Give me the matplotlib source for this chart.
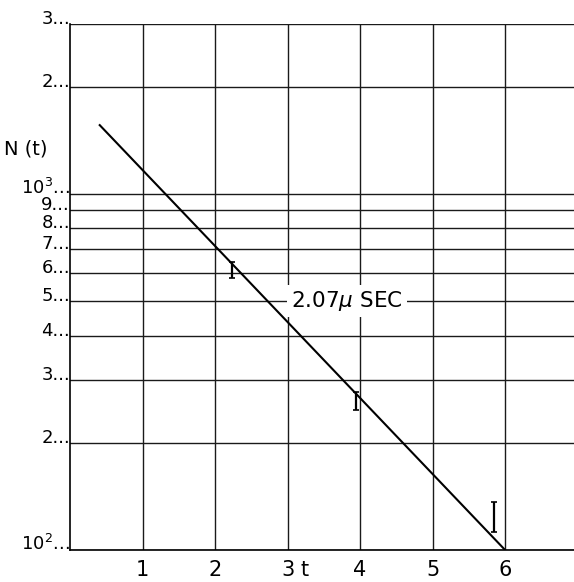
import numpy as np
import matplotlib.pyplot as plt

# y gridlines / tick labels
y_ticks = [100, 200, 300, 400, 500, 600, 700, 800, 900, 1000, 2000, 3000]
y_labels = ["10$^2$", "2", "3", "4", "5", "6", "7", "8", "9", "10$^3$", "2", "3"]
x_ticks = [1, 2, 3, 4, 5, 6]

# fitted decay line endpoints (t, N)
fit_t = [0.41, 6.0]
fit_n = [1560, 100]

# measured points with error ranges
pt_t = [2.23, 3.94, 5.85]
pt_lo = [580, 247, 112]
pt_hi = [644, 278, 136]

plt.rcParams['font.family'] = ['DejaVu Sans']

fig = plt.figure(figsize=(5.74, 5.82), dpi=100)
ax = fig.add_axes([70 / 574, 32 / 582, 504 / 574, 526 / 582])
ax.set_yscale('log')
ax.set_xlim(0, 6.95)
ax.set_ylim(100, 3000)

for y in y_ticks:
    ax.axhline(y, color='#1a1a1a', lw=1.0, zorder=1)
for x in x_ticks:
    ax.axvline(x, color='#1a1a1a', lw=1.0, zorder=1)

ax.plot(fit_t, fit_n, color='black', lw=1.5, zorder=3)

mid = [(lo + hi) / 2 for lo, hi in zip(pt_lo, pt_hi)]
err = [[m - lo for m, lo in zip(mid, pt_lo)], [hi - m for m, hi in zip(mid, pt_hi)]]
ax.errorbar(pt_t, mid, yerr=err, fmt='none', ecolor='black', elinewidth=1.6,
            capsize=2.5, capthick=1.2, zorder=4)

ax.text(3.82, 500, r"2.07$\mu$ SEC", fontsize=15.5, ha='center', va='center',
        bbox=dict(facecolor='white', edgecolor='none', pad=3), zorder=5)

ax.set_yticks(y_ticks)
ax.set_yticklabels([l + "..." for l in y_labels], fontsize=13)
for lab in ax.get_yticklabels():
    lab.set_va('baseline')
ax.yaxis.set_minor_locator(plt.NullLocator())
ax.set_xticks(x_ticks)
ax.set_xticklabels([str(x) for x in x_ticks], fontsize=15)
ax.tick_params(axis='y', length=0, pad=0)
ax.tick_params(axis='x', length=0, pad=7)

for s in ['top', 'right']:
    ax.spines[s].set_visible(False)
ax.spines['left'].set_linewidth(1.2)
ax.spines['bottom'].set_linewidth(1.2)

fig.text(26 / 574, 1 - 149 / 582, "N (t)", fontsize=14, ha='center', va='center')
fig.text(305 / 574, 1 - 570 / 582, "t", fontsize=15, ha='center', va='center')

fig.savefig("out.png", dpi=100)
